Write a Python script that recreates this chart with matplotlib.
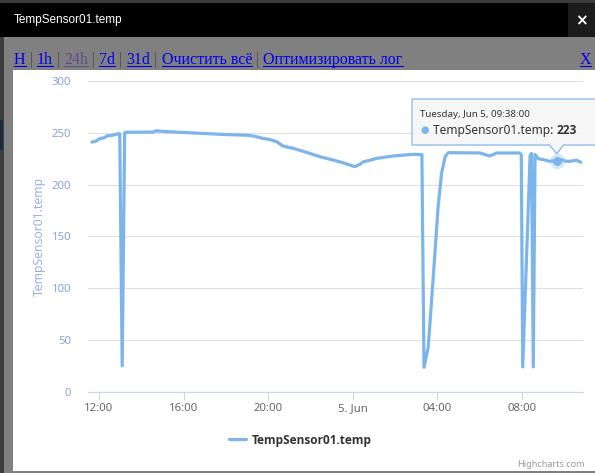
import matplotlib
matplotlib.use("Agg")
import matplotlib.pyplot as plt
import matplotlib.dates as mdates
import matplotlib.transforms as mtrans
from matplotlib import font_manager
from matplotlib.patches import Rectangle, Polygon
import pandas as pd

# ---------------- data ----------------
times = [
    "2018-06-04 11:40", "2018-06-04 11:52", "2018-06-04 12:03", "2018-06-04 12:14",
    "2018-06-04 12:23", "2018-06-04 12:37", "2018-06-04 12:54", "2018-06-04 12:59",
    "2018-06-04 13:06", "2018-06-04 13:13", "2018-06-04 13:17", "2018-06-04 14:33",
    "2018-06-04 14:44", "2018-06-04 14:53", "2018-06-04 16:47", "2018-06-04 18:00",
    "2018-06-04 19:03", "2018-06-04 19:23", "2018-06-04 19:45", "2018-06-04 20:05",
    "2018-06-04 20:24", "2018-06-04 20:42", "2018-06-04 21:16", "2018-06-04 21:49",
    "2018-06-04 22:27", "2018-06-04 22:55", "2018-06-04 23:23", "2018-06-04 23:46",
    "2018-06-05 00:06", "2018-06-05 00:20", "2018-06-05 00:30", "2018-06-05 00:49",
    "2018-06-05 01:08", "2018-06-05 01:55", "2018-06-05 02:52", "2018-06-05 03:16",
    "2018-06-05 03:22", "2018-06-05 03:34", "2018-06-05 03:49", "2018-06-05 04:02",
    "2018-06-05 04:12", "2018-06-05 04:22", "2018-06-05 04:31", "2018-06-05 06:01",
    "2018-06-05 06:15", "2018-06-05 06:29", "2018-06-05 06:48", "2018-06-05 07:53",
    "2018-06-05 07:58", "2018-06-05 08:02", "2018-06-05 08:23", "2018-06-05 08:27",
    "2018-06-05 08:32", "2018-06-05 08:37", "2018-06-05 08:46", "2018-06-05 09:05",
    "2018-06-05 09:17", "2018-06-05 09:38", "2018-06-05 09:53", "2018-06-05 10:05",
    "2018-06-05 10:16", "2018-06-05 10:35", "2018-06-05 10:47",
]
temps = [
    241, 242, 244.5, 245,
    247, 247.5, 249, 249,
    25, 250, 250.5, 250.7,
    252, 251.5, 249.5, 248.3,
    247.6, 246.5, 244.6, 243.5,
    241.4, 237.2, 234.5, 231.1,
    226.9, 224.5, 222, 219.5,
    217.3, 219.5, 222, 223.5,
    225.3, 227.6, 229.2, 229,
    23.5, 43, 114, 178.6,
    211, 227, 230.8, 230.5,
    229, 227.6, 230.5, 230.5,
    229, 24, 228, 230,
    24, 229, 225, 223.7,
    222.5, 223, 224, 222.5,
    222.5, 223.5, 221.5,
]

series_name = "TempSensor01.temp"
window_title = "TempSensor01.temp"
x_tick_times = ["2018-06-04 12:00", "2018-06-04 16:00", "2018-06-04 20:00",
                "2018-06-05 00:00", "2018-06-05 04:00", "2018-06-05 08:00"]
x_tick_labels = ["12:00", "16:00", "20:00", "5. Jun", "04:00", "08:00"]
y_ticks = [0, 50, 100, 150, 200, 250, 300]
x_range = ["2018-06-04 11:29", "2018-06-05 10:53"]
tooltip_time = "2018-06-05 09:38"
tooltip_value = 223
links = ["H", "1h", "24h", "7d", "31d", "Очистить всё", "Оптимизировать лог"]
visited_links = ["24h"]
credits = "Highcharts.com"

# ---------------- fonts ----------------
UI_FONT = "Noto Sans"
candidates = ["Open Sans", "Noto Sans", "Lato", "Roboto", "DejaVu Sans"]
bold_families = set()
for f in font_manager.fontManager.ttflist:
    w = f.weight
    if isinstance(w, str):
        w = 700 if "bold" in w.lower() else 400
    if w >= 600:
        bold_families.add(f.name)
BOLD_FONT = next((c for c in candidates if c in bold_families), "DejaVu Sans")

# ---------------- figure ----------------
W, H = 595, 473
fig = plt.figure(figsize=(W / 100, H / 100), dpi=100)
renderer = fig.canvas.get_renderer()

bg = fig.add_axes([0, 0, 1, 1], zorder=0)
bg.set_xlim(0, W)
bg.set_ylim(H, 0)
bg.axis("off")

def rect(x, y, w, h, c):
    bg.add_patch(Rectangle((x, y), w, h, facecolor=c, edgecolor="none"))

rect(0, 0, W, H, "#808080")
rect(0, 0, W, 3, "#3a3a3a")
rect(0, 3, W, 34, "#000000")
rect(568, 3, 27, 34, "#1c1c1c")
rect(0, 37, 4, H - 37, "#3d3d3d")
rect(0, 120, 3, 30, "#1b2b3b")
rect(13, 70, W - 13, 401, "#ffffff")

bg.text(14, 20, window_title, color="white", fontsize=8.5, family="Liberation Sans",
        va="center", ha="left")
bg.text(581.5, 20.5, "×", color="white", fontsize=11, fontweight="bold",
        family="DejaVu Sans", va="center", ha="center")

# links line
link_font = dict(family="Liberation Serif", fontsize=11.5)
xpos = 14
base_y = 64
for i, name in enumerate(links):
    col = "#5e4b8b" if name in visited_links else "#0000ee"
    t = bg.text(xpos, base_y, name, color=col, va="baseline", ha="left", **link_font)
    wpx = t.get_window_extent(renderer).width
    bg.plot([xpos, xpos + wpx], [base_y + 2, base_y + 2], color=col, lw=0.8)
    xpos += wpx
    if i < len(links) - 1:
        s = bg.text(xpos, base_y, " | ", color="#4a4a4a", va="baseline", ha="left", **link_font)
        xpos += s.get_window_extent(renderer).width
tx = bg.text(591, base_y, "X", color="#0000ee", va="baseline", ha="right", **link_font)
xw = tx.get_window_extent(renderer).width
bg.plot([591 - xw, 591], [base_y + 2, base_y + 2], color="#0000ee", lw=0.8)

bg.text(585, 464, credits, color="#999999", fontsize=6.5, family=UI_FONT,
        ha="right", va="center")

# ---------------- chart ----------------
L, R, T, B = 88, 583, 81, 391.7
ax = fig.add_axes([L / W, (H - B) / H, (R - L) / W, (B - T) / H], zorder=2)
ax.set_facecolor("none")

t_vals = mdates.date2num(pd.to_datetime(times))
line_color = "#7cb5ec"
ax.plot(t_vals, temps, color=line_color, lw=2.3, solid_joinstyle="round",
        solid_capstyle="round", label=series_name, clip_on=False, zorder=3)

ax.set_ylim(0, 300)
ax.set_xlim(mdates.date2num(pd.to_datetime(x_range)))
ax.set_yticks(y_ticks)
ax.set_xticks(mdates.date2num(pd.to_datetime(x_tick_times)))
ax.set_xticklabels(x_tick_labels)

for s in ["top", "right", "left"]:
    ax.spines[s].set_visible(False)
ax.spines["bottom"].set_color("#ccd6eb")
ax.spines["bottom"].set_linewidth(0.9)

ax.yaxis.grid(True, color="#e0e0e0", lw=0.8)
ax.set_axisbelow(True)
ax.tick_params(axis="y", length=0, pad=12, labelsize=8.2, labelcolor="#86a3d8")
ax.tick_params(axis="x", length=6, width=0.8, color="#ccd6eb", pad=2,
               labelsize=8.2, labelcolor="#666666")
for lab in ax.get_xticklabels() + ax.get_yticklabels():
    lab.set_family(UI_FONT)

ax.set_ylabel(series_name, fontsize=8.8, color="#98b2e2", family=UI_FONT)
ax.yaxis.set_label_coords((46 - L) / (R - L), 0.5)

# hover marker
tt = mdates.date2num(pd.Timestamp(tooltip_time))
ax.plot([tt], [tooltip_value], "o", ms=11, color=line_color, alpha=0.3,
        mec="none", zorder=4, clip_on=False)
ax.plot([tt], [tooltip_value], "o", ms=6.5, color=line_color, mec="none",
        zorder=5, clip_on=False)

# legend
leg = ax.legend(loc="center", bbox_to_anchor=(300 / W, (H - 440) / H),
                bbox_transform=fig.transFigure, frameon=False,
                prop=dict(family=BOLD_FONT, weight="bold", size=8.6),
                handlelength=1.45, handletextpad=0.45)
for txt in leg.get_texts():
    txt.set_color("#333333")

# ---------------- tooltip overlay ----------------
ov = fig.add_axes([0, 0, 1, 1], zorder=5)
ov.set_xlim(0, W)
ov.set_ylim(H, 0)
ov.axis("off")
ov.set_facecolor("none")

disp = ax.transData.transform((tt, tooltip_value))
mx = disp[0]
my = H - disp[1]
bx0, bx1, by0, by1 = 412, 600, 99, 145
poly = [(bx0, by0), (bx1, by0), (bx1, by1), (mx + 7, by1), (mx, my - 7),
        (mx - 7, by1), (bx0, by1)]
ov.add_patch(Polygon(poly, closed=True, facecolor="#000000", alpha=0.06,
                     edgecolor="none",
                     transform=ov.transData + mtrans.Affine2D().translate(1, -1)))
ov.add_patch(Polygon(poly, closed=True, facecolor="#f7f7f7", alpha=0.92,
                     edgecolor=line_color, lw=0.9, joinstyle="round"))

ts = pd.Timestamp(tooltip_time)
date_str = ts.strftime("%A, %b ") + str(ts.day) + ts.strftime(", %H:%M:%S")
ov.text(420, 114, date_str, fontsize=7.0, color="#333333", family=UI_FONT,
        va="center", ha="left")
ov.text(420, 130, "●", fontsize=7, color=line_color, family="DejaVu Sans",
        va="center", ha="left")
t1 = ov.text(433, 130, series_name + ": ", fontsize=8.6, color="#333333",
             family=UI_FONT, va="center", ha="left")
w1 = t1.get_window_extent(renderer).width
ov.text(433 + w1, 130, str(tooltip_value), fontsize=8.6, color="#333333",
        family=BOLD_FONT, fontweight="bold", va="center", ha="left")

fig.savefig("out.png", dpi=100)
